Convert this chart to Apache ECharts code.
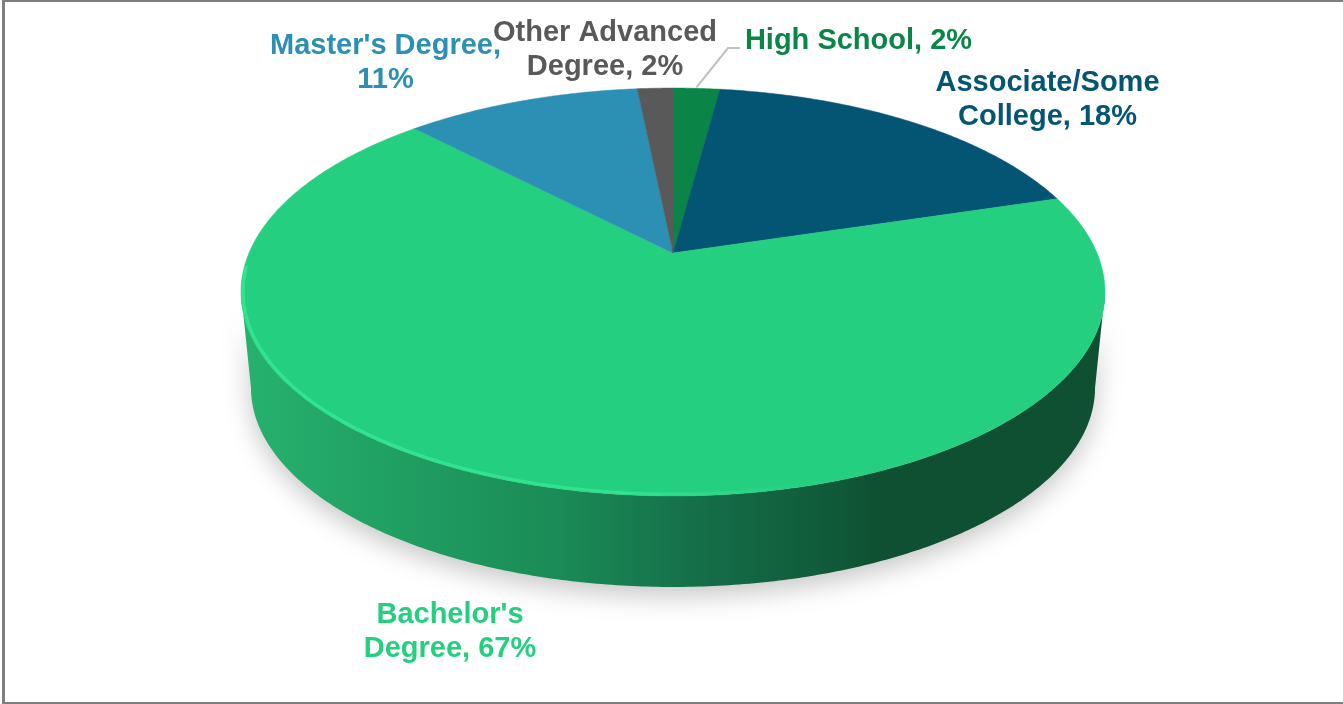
<!DOCTYPE html>
<html>
<head>
<meta charset="utf-8">
<style>
html,body{margin:0;padding:0;background:#fff;}
#frame{position:absolute;left:2px;top:0;width:1341px;height:704px;border-left:3px solid #7f7f7f;border-top:2px solid #7f7f7f;border-bottom:2px solid #7f7f7f;box-sizing:border-box;}
#chart{position:absolute;left:0;top:0;width:1343px;height:704px;}
</style>
<script src="https://cdn.jsdelivr.net/npm/echarts@6/dist/echarts.min.js"></script>
</head>
<body>
<div id="frame"></div>
<div id="chart"></div>
<script>
const categories = ['High School', 'Associate/Some College', "Bachelor's Degree", "Master's Degree", 'Other Advanced Degree'];
const values = [2.1, 18.2, 67.5, 10.6, 1.6];
const displayPercents = [2, 18, 67, 11, 2];
const labelLines = [
  ['High School, 2%'],
  ['Associate/Some', 'College, 18%'],
  ["Bachelor's", 'Degree, 67%'],
  ["Master's Degree,", '11%'],
  ['Other Advanced', 'Degree, 2%']
];
const colors = ['#0A8547', '#045573', '#25CF80', '#2C8FB4', '#595959'];
const labelColors = ['#0A8547', '#045573', '#25CF80', '#2C8FB4', '#595959'];

// Projection of the tilted disc
const view = { cx: 673, apexY: 253, R: 424, H: 196.5, k: 0.1912, depthApexY: 349.6, depthScale: 0.977 };
// Label layout (centre x, first line y)
const labelLayout = [
  { x: 858.5, y: 40.5 }, { x: 1047.5, y: 82.5 }, { x: 450, y: 614.5 }, { x: 385.5, y: 45.5 }, { x: 605, y: 32.5 }
];
const leaderElbow = [[728, 48], [740, 48]];

const total = values.reduce((a, b) => a + b, 0);
function proj(t) {
  const u = Math.sin(t), v = Math.cos(t), w = 1 + view.k * v;
  return [u / w, -v / w];
}
function rimTop(t) { const p = proj(t); return [view.cx + view.R * p[0], view.apexY + view.H * p[1]]; }
function rimInset(t) { const p = proj(t); return [view.cx + (view.R - 2) * p[0], view.apexY + (view.H - 1.5) * p[1]]; }
function rimBottom(t) {
  const p = proj(t), s = view.depthScale;
  return [view.cx + view.R * s * p[0], view.depthApexY + view.H * s * p[1]];
}
function arc(fn, a, b) {
  const n = Math.max(2, Math.ceil(Math.abs(b - a) / 0.01)), out = [];
  for (let i = 0; i <= n; i++) out.push(fn(a + (b - a) * i / n));
  return out;
}
const starts = []; values.reduce((s, v, i) => (starts[i] = s, s + v), 0);

function renderItem(params, api) {
  const i = params.dataIndex;
  const a = starts[i] / total * 2 * Math.PI;
  const b = (starts[i] + api.value(1)) / total * 2 * Math.PI;
  const children = [];
  // visible side wall: between the two horizontal extremes of the rim
  const tR = Math.acos(-view.k), tL = 2 * Math.PI - tR;
  const sa = Math.max(a, tR), sb = Math.min(b, tL);
  if (sb > sa) {
    const pts = arc(rimTop, sa, sb).concat(arc(rimBottom, sb, sa));
    children.push({
      type: 'polygon',
      shape: { points: pts },
      style: {
        fill: new echarts.graphic.LinearGradient(0, 0, 1, 0, [
          { offset: 0, color: '#26B26F' },
          { offset: 0.18, color: '#209F63' },
          { offset: 0.36, color: '#1B8C57' },
          { offset: 0.52, color: '#15704A' },
          { offset: 0.68, color: '#105A3A' },
          { offset: 0.74, color: '#0E5031' },
          { offset: 1, color: '#0E5031' }
        ]),
        shadowBlur: 26, shadowColor: 'rgba(0,0,0,0.22)', shadowOffsetY: 9
      }
    });
  }
  // top face of the slice
  const face = [[view.cx, view.apexY]].concat(arc(rimTop, a, b));
  children.push({
    type: 'polygon',
    shape: { points: face },
    style: { fill: colors[i], stroke: colors[i], lineWidth: 0.5 }
  });
  // bevel along the front rim: bright on the left, fading out to the right
  if (sb > sa) {
    children.push({
      type: 'polyline',
      shape: { points: arc(rimInset, sa + 0.02, sb + 0.12) },
      style: {
        fill: null, lineWidth: 3, lineCap: 'round',
        stroke: new echarts.graphic.LinearGradient(1, 0, 0, 0, [
          { offset: 0, color: 'rgba(49,229,144,0)' },
          { offset: 0.35, color: 'rgba(49,229,144,0)' },
          { offset: 0.55, color: 'rgba(49,229,144,0.9)' },
          { offset: 1, color: 'rgba(49,229,144,1)' }
        ])
      }
    });
  }
  // labels
  const L = labelLayout[i];
  labelLines[i].forEach((line, j) => {
    children.push({
      type: 'text', z2: 10,
      style: {
        x: L.x, y: L.y + j * 34, text: line, align: 'center', verticalAlign: 'middle',
        font: 'bold 29px "Liberation Sans", Arial, sans-serif', fill: labelColors[i]
      }
    });
  });
  // leader line for the small top slice
  if (i === 0) {
    const m = rimTop((a + b) / 2);
    children.push({
      type: 'polyline',
      shape: { points: [[m[0], m[1] - 1]].concat(leaderElbow) },
      style: { fill: null, stroke: '#BFBFBF', lineWidth: 2 }
    });
  }
  return { type: 'group', children };
}

const chart = echarts.init(document.getElementById('chart'), null, { renderer: 'canvas' });
chart.setOption({
  animation: false,
  backgroundColor: 'transparent',
  series: [{
    type: 'custom',
    coordinateSystem: 'none',
    renderItem,
    data: categories.map((c, i) => ({ name: c, value: [i, values[i], displayPercents[i]] }))
  }]
});
</script>
</body>
</html>
